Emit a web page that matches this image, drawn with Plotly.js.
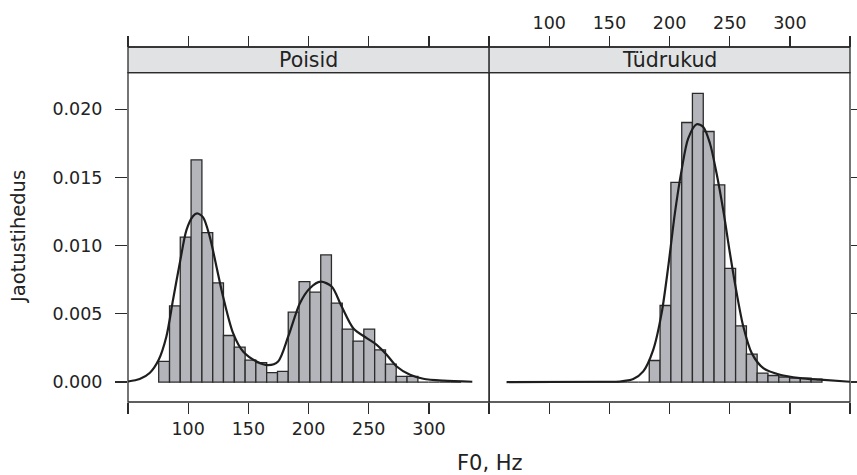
<!DOCTYPE html>
<html>
<head>
<meta charset="utf-8">
<script src="https://cdn.plot.ly/plotly-3.0.1.min.js"></script>
<style>html,body{margin:0;padding:0;background:#fff;}#chart{width:857px;height:475px;}</style>
</head>
<body>
<div id="chart"></div>
<script>
// Histogram breaks (Hz), shared by both panels
const breaks = [75.5, 84.5, 93.4, 102.4, 111.4, 120.4, 129.3, 138.3, 147.3, 156.2,
  165.2, 174.2, 183.1, 192.1, 201.1, 210.1, 219.0, 228.0, 237.0, 245.9,
  254.9, 263.9, 272.8, 281.8, 290.8, 299.8, 308.7, 317.7, 326.7];

// Density per bin
const boysDensity = [0.00151, 0.00558, 0.01063, 0.01629, 0.01095, 0.00727, 0.00341, 0.00256,
  0.00160, 0.00143, 0.00069, 0.00078, 0.00512, 0.00736, 0.00659, 0.00932, 0.00578, 0.00388,
  0.00300, 0.00388, 0.00236, 0.00132, 0.00041, 0.00041, 0, 0, 0, 0];
const girlsDensity = [0, 0, 0, 0, 0, 0, 0, 0, 0, 0, 0, 0,
  0.00158, 0.00561, 0.01464, 0.01903, 0.02117, 0.01837, 0.01446, 0.00834,
  0.00412, 0.00205, 0.00066, 0.00048, 0.00037, 0.00029, 0.00029, 0.00022];

// Kernel density curves
const boysKdeX = [50, 59.7, 68.0, 75.5, 81.9, 87.4, 93.0, 98.6, 104.1, 107.4, 112.4, 117.9, 123.5,
  129.0, 137.3, 145.6, 156.8, 166.4, 174.7, 183.1, 192.8, 201.1, 210.0, 219.2, 227.5, 237.1,
  248.3, 256.6, 264.9, 273.2, 284.3, 295.3, 312.0, 336.0];
const boysKdeY = [0.00004, 0.00022, 0.00066, 0.00163, 0.00334, 0.00602, 0.00871, 0.01115, 0.01217,
  0.01237, 0.01207, 0.01066, 0.00846, 0.00626, 0.00359, 0.00224, 0.00151, 0.00124, 0.00151,
  0.00334, 0.00578, 0.00688, 0.00736, 0.00700, 0.00553, 0.00395, 0.00322, 0.00273, 0.00200,
  0.00114, 0.00053, 0.00024, 0.00010, 0.00002];
const girlsKdeX = [64.5, 142.1, 158.7, 169.8, 178.1, 186.4, 193.4, 198.9, 204.4, 210.0, 215.5, 222.5,
  228.0, 233.6, 239.1, 244.6, 250.2, 255.8, 261.3, 268.3, 277.9, 291.8, 308.4, 325.1, 350];
const girlsKdeY = [0, 0.00002, 0.00004, 0.00022, 0.00078, 0.00236, 0.00505, 0.00846, 0.01237,
  0.01554, 0.01786, 0.01890, 0.01870, 0.01749, 0.01529, 0.01261, 0.00944, 0.00651, 0.00407,
  0.00212, 0.00102, 0.00053, 0.00029, 0.00017, 0.00002];

const panelNames = ['Poisid', 'Tüdrukud'];
const xTickVals = [50, 100, 150, 200, 250, 300, 350];
const xTickText = ['', '100', '150', '200', '250', '300', ''];
const yTickVals = [0, 0.005, 0.010, 0.015, 0.020];
const xTitle = 'F0, Hz';
const yTitle = 'Jaotustihedus';

const centers = [], widths = [];
for (let i = 0; i < breaks.length - 1; i++) {
  centers.push((breaks[i] + breaks[i + 1]) / 2);
  widths.push(breaks[i + 1] - breaks[i]);
}

const barFill = '#b4b5ba';
const ink = '#2b2b2b';
const FONT = '"DejaVu Sans", "Liberation Sans", Arial, sans-serif';

function barTrace(y, xa, ya) {
  return {type: 'bar', x: centers, y: y, width: widths, xaxis: xa, yaxis: ya,
    marker: {color: barFill, line: {color: ink, width: 1.3}}, hoverinfo: 'skip', showlegend: false};
}
function lineTrace(x, y, xa, ya) {
  return {type: 'scatter', mode: 'lines', x: x, y: y, xaxis: xa, yaxis: ya,
    line: {color: '#1e1e1e', width: 2.2, shape: 'spline', smoothing: 0.8}, hoverinfo: 'skip', showlegend: false};
}
function ghost(xa, ya) {
  return {type: 'scatter', mode: 'none', x: centers, y: boysDensity, xaxis: xa, yaxis: ya,
    hoverinfo: 'skip', showlegend: false};
}

const traces = [
  barTrace(boysDensity, 'x', 'y'),
  lineTrace(boysKdeX, boysKdeY, 'x', 'y'),
  barTrace(girlsDensity, 'x2', 'y2'),
  lineTrace(girlsKdeX, girlsKdeY, 'x2', 'y2'),
  ghost('x3', 'y'),
  ghost('x4', 'y2')
];

const panelTop = 0.928;
const xRange = [50, 350];
const yRange = [-0.001464, 0.02269];
const tickFont = {family: FONT, size: 17.5, color: '#222'};

function xax(extra) {
  return Object.assign({range: xRange, tickvals: xTickVals, ticktext: xTickText, ticks: 'outside',
    ticklen: 11, tickwidth: 1.3, tickcolor: ink, showgrid: false, zeroline: false, showline: false,
    tickfont: tickFont, fixedrange: true}, extra);
}
function yax(extra) {
  return Object.assign({range: yRange, domain: [0, panelTop], tickvals: yTickVals, tickformat: '.3f',
    ticks: 'outside', ticklen: 12, tickwidth: 1.3, tickcolor: ink, showgrid: false, zeroline: false,
    showline: false, tickfont: tickFont, fixedrange: true}, extra);
}

const shapes = [];
const annotations = [];
[['x', 'y'], ['x2', 'y2']].forEach(function (p, i) {
  shapes.push({type: 'rect', xref: p[0] + ' domain', yref: 'paper', x0: 0, x1: 1, y0: panelTop, y1: 1,
    fillcolor: '#e1e2e4', line: {color: ink, width: 1.3}, layer: 'below'});
  shapes.push({type: 'rect', xref: p[0] + ' domain', yref: p[1] + ' domain', x0: 0, x1: 1, y0: 0, y1: 1,
    fillcolor: 'rgba(0,0,0,0)', line: {color: ink, width: 1.3}});
  shapes.push({type: 'line', xref: p[0] + ' domain', yref: 'paper', x0: 0, x1: 1, y0: 1, y1: 1,
    line: {color: ink, width: 1.3}});
  annotations.push({text: panelNames[i], xref: p[0] + ' domain', yref: 'paper', x: 0.5, y: (panelTop + 1) / 2,
    xanchor: 'center', yanchor: 'middle', showarrow: false, font: {family: FONT, size: 20.5, color: '#222'}});
});
annotations.push({text: xTitle, xref: 'paper', yref: 'paper', x: 0.5012, y: -0.1707, xanchor: 'center',
  yanchor: 'middle', showarrow: false, font: {family: FONT, size: 21, color: '#222'}});
annotations.push({text: yTitle, xref: 'paper', yref: 'paper', x: -0.1514, y: 0.464, xanchor: 'center',
  yanchor: 'middle', textangle: -90, showarrow: false, font: {family: FONT, size: 19.5, color: '#222'}});

const layout = {
  width: 857, height: 475,
  margin: {l: 128.3, r: 7, t: 46.7, b: 72.7, pad: 0},
  paper_bgcolor: '#ffffff', plot_bgcolor: '#ffffff',
  bargap: 0, barmode: 'overlay', showlegend: false,
  font: {family: FONT, color: '#222'},
  xaxis: xax({domain: [0, 0.5002], anchor: 'y'}),
  xaxis2: xax({domain: [0.5002, 1], anchor: 'y2', showticklabels: false}),
  xaxis3: xax({overlaying: 'x', side: 'top', anchor: 'free', position: 1, showticklabels: false}),
  xaxis4: xax({overlaying: 'x2', side: 'top', anchor: 'free', position: 1}),
  yaxis: yax({anchor: 'x', ticklabelstandoff: 9}),
  yaxis2: yax({anchor: 'x2', side: 'right', showticklabels: false, ticklen: 8}),
  shapes: shapes,
  annotations: annotations
};

Plotly.newPlot('chart', traces, layout, {staticPlot: true, displayModeBar: false});
</script>
</body>
</html>
